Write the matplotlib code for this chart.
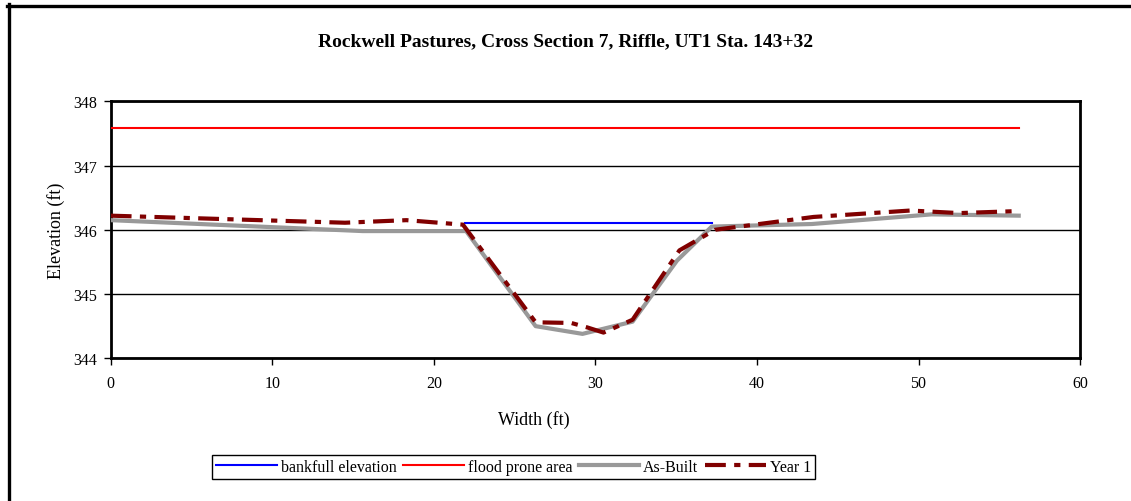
import matplotlib
matplotlib.use("Agg")
from matplotlib import pyplot as plt
from matplotlib.lines import Line2D

# survey data, cross section 7 (riffle)
asbuilt_x = [0, 15.6, 22.0, 26.3, 29.2, 32.3, 35.05, 37.2, 43.4, 50.8, 56.2]
asbuilt_y = [346.15, 345.98, 345.98, 344.50, 344.38, 344.57, 345.52, 346.05, 346.09, 346.24, 346.22]

year1_x = [0, 14.5, 18.3, 21.8, 26.3, 28.5, 29.5, 30.5, 32.3, 35.2, 37.4, 43.5, 49.5, 52.5, 56.0]
year1_y = [346.22, 346.11, 346.15, 346.08, 344.56, 344.55, 344.48, 344.40, 344.60, 345.68, 346.00,
           346.20, 346.30, 346.26, 346.29]

bankfull_x = [21.9, 37.2]
bankfull_y = [346.11, 346.11]

flood_x = [0, 56.2]
flood_y = [347.58, 347.58]

plt.rcParams["font.family"] = ["Liberation Serif", "DejaVu Serif"]

W, H = 1131, 502
fig = plt.figure(figsize=(W / 100, H / 100), dpi=100)
ax = fig.add_axes([0.0979, 0.2843, 0.8571, 0.5119])

ax.plot(bankfull_x, bankfull_y, color="#0000ff", lw=1.5, label="bankfull elevation", zorder=3)
ax.plot(flood_x, flood_y, color="#ff0000", lw=1.5, label="flood prone area", zorder=3)
ax.plot(asbuilt_x, asbuilt_y, color="#999999", lw=3, label="As-Built", zorder=4)
ax.plot(year1_x, year1_y, color="#800000", lw=3, dashes=(5, 2, 1.5, 2), label="Year 1", zorder=5)

ax.set_xlim(0, 60)
ax.set_ylim(344, 348)
ax.set_xticks(range(0, 61, 10))
ax.set_yticks(range(344, 349))
ax.grid(axis="y", color="black", lw=1)
ax.set_axisbelow(True)
for sp in ax.spines.values():
    sp.set_linewidth(2)
ax.tick_params(direction="out", length=5, width=1, labelsize=11.5, colors="black")
ax.tick_params(axis="x", pad=7)
ax.tick_params(axis="y", pad=5)

ax.set_xlabel("Width (ft)", fontsize=13, labelpad=14)
ax.xaxis.set_label_coords(0.436, -0.2)
ax.set_ylabel("Elevation (ft)", fontsize=13, labelpad=6)
fig.text(0.5, 1 - 42 / H, "Rockwell Pastures, Cross Section 7, Riffle, UT1 Sta. 143+32",
         ha="center", va="center", fontsize=14, fontweight="bold")

leg = fig.legend(loc="center", bbox_to_anchor=(513.5 / W, 1 - 468 / H), ncol=4, fontsize=11.5,
                 handlelength=3.8, handletextpad=0.25, columnspacing=0.4,
                 borderpad=0.25, fancybox=False, edgecolor="black", framealpha=1)
leg.get_frame().set_linewidth(1)

# chart border, top and left edges
fig.add_artist(Line2D([7 / W, 1], [1 - 6.5 / H, 1 - 6.5 / H], transform=fig.transFigure,
                      color="black", lw=2.4))
fig.add_artist(Line2D([8.5 / W, 8.5 / W], [0, 1 - 5 / H], transform=fig.transFigure,
                      color="black", lw=2.4))

fig.savefig("out.png", dpi=100)
